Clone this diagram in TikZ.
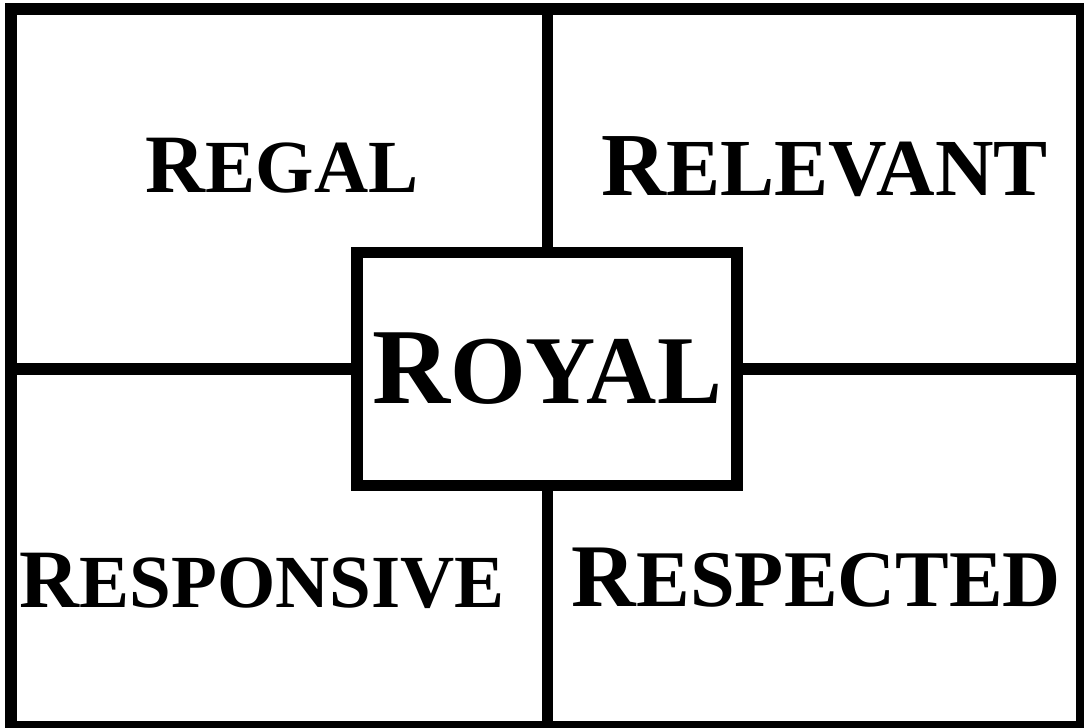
\documentclass[tikz,border=0pt]{standalone}
\usepackage{fontspec}
\setmainfont{Liberation Serif}
\usetikzlibrary{positioning}
% first letter full size, the rest as small capitals
\newcommand{\scword}[4]{{\fontsize{#1pt}{#1pt}\selectfont #3}{\fontsize{#2pt}{#2pt}\selectfont #4}}

\begin{document}
\begin{tikzpicture}[x=0.5pt, y=0.5pt,
    frame line/.style={line width=6pt},
    cross line/.style={line width=5.6pt},
    word/.style={font=\bfseries, anchor=base, inner sep=0pt}]
  \useasboundingbox (0,0) rectangle (1084,728);
  \draw[frame line] (11,1) rectangle (1082,719);
  \coordinate (top) at (547.5,719);
  \coordinate (bottom) at (547.5,1);
  \coordinate (left) at (11,359);
  \coordinate (right) at (1082,359);
  \node[draw, cross line, fill=white, minimum width=190pt, minimum height=116.75pt,
        inner sep=0pt, font=\bfseries] (royal) at (547,359) {\scword{54}{48.6}{R}{OYAL}};
  \draw[cross line] (top) -- (top |- royal.north);
  \draw[cross line] (bottom) -- (bottom |- royal.south);
  \draw[cross line] (left) -- (left -| royal.west);
  \draw[cross line] (right) -- (right -| royal.east);
  \node[word] (regal) at (282,535) {\scword{41.5}{37.5}{R}{EGAL}};
  \node[word] (relevant) at (824.5,532) {\scword{45}{40.5}{R}{ELEVANT}};
  \node[word] (responsive) at (262.5,120) {\scword{41.5}{37.5}{R}{ESPONSIVE}};
  \node[word] (respected) at (816.5,121) {\scword{44.7}{40.2}{R}{ESPECTED}};
\end{tikzpicture}
\end{document}
